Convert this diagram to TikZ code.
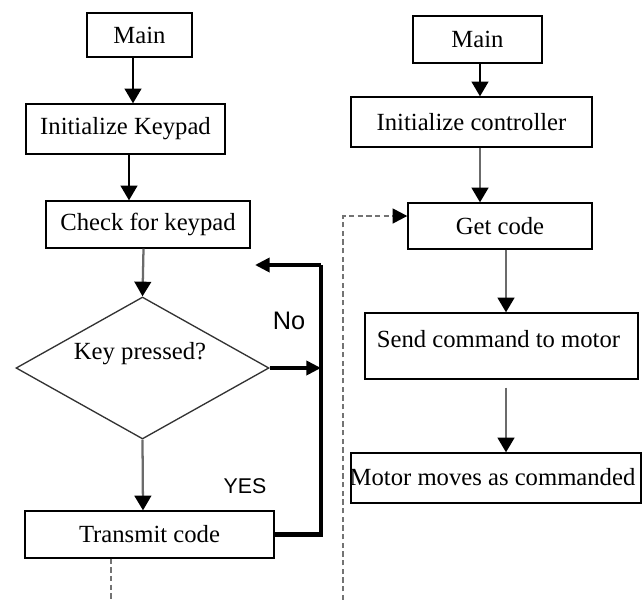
\documentclass[tikz,border=0pt]{standalone}
\usepackage{fontspec}
\setmainfont{Liberation Serif}
\newfontfamily\labelfont{Liberation Sans}
\usetikzlibrary{arrows.meta,shapes.geometric,calc}

\tikzset{
  stepbox/.style={draw=black, line width=1pt, rectangle, inner sep=0pt,
    font=\fontsize{18.5}{21}\selectfont},
  boxtext/.style={font=\fontsize{18.5}{21}\selectfont, inner sep=0pt},
  decision/.style={draw=black!80, line width=1pt, diamond, inner sep=0pt, aspect=1.78},
  tip/.style={-{Triangle[width=12.5pt,length=11pt,fill=black,color=black]}},
  arr/.style={draw=black, line width=1.5pt, tip},
  grayarr/.style={draw=black!58, line width=1.7pt, tip},
  loopline/.style={draw=black, line width=3.4pt, line join=miter},
  looparr/.style={loopline, -{Triangle[width=10.5pt,length=11pt]}},
  linkline/.style={draw=black!55, line width=1.8pt, dash pattern=on 4pt off 2.5pt},
  linkarr/.style={linkline, -{Triangle[width=11pt,length=11pt,fill=black,color=black]}},
  answer/.style={inner sep=0pt}
}

\begin{document}
\begin{tikzpicture}[x=0.75pt,y=-0.75pt]
\useasboundingbox (0,0) rectangle (643,600);

% keypad side
\node[stepbox, minimum width=78.75pt, minimum height=33pt] (mainL) at (139.5,35) {Main};
\node[stepbox, minimum width=149.25pt, minimum height=37.5pt] (initK) at (125.5,129) {Initialize Keypad};
\node[stepbox, minimum width=153pt, minimum height=35.25pt] (check) at (148,224.5) {Check for keypad};
\node[decision, minimum width=189.75pt, minimum height=106.5pt] (dec) at (142.5,368) {};
\node[boxtext] (decText) at (140,354) {Key pressed?};
\node[stepbox, minimum width=186.75pt, minimum height=35.25pt] (transmit) at (149.5,534.5) {Transmit code};

% controller side
\node[stepbox, minimum width=96.75pt, minimum height=35.25pt] (mainR) at (477.5,39.5) {Main};
\node[stepbox, minimum width=180.75pt, minimum height=37.5pt] (initC) at (471.5,122) {Initialize controller};
\node[stepbox, minimum width=138pt, minimum height=34.5pt] (getc) at (500,226) {Get code};
\node[stepbox, minimum width=204.75pt, minimum height=49.5pt] (send) at (501.5,346) {};
\node[boxtext] (sendText) at (498.5,339) {Send command to motor};
\node[stepbox, minimum width=217.5pt, minimum height=37.5pt] (motor) at (496,478) {};
\node[boxtext] (motorText) at (492.5,477) {Motor moves as commanded};

% branch labels
\node[answer, font=\labelfont\fontsize{19}{21}\selectfont] (no) at (289,321) {No};
\node[answer, font=\labelfont\fontsize{16}{18}\selectfont] (yes) at (245,486) {YES};

% loop corner points and free ends of the link
\coordinate (loopTop) at (321,265);
\coordinate (loopTip) at (255,265);
\coordinate (txEnd) at (111,600);
\coordinate (rxStart) at (343,600);

% keypad flow
\draw[arr] ($(mainL.south)+(-6.5,0)$) -- ($(initK.north)+(7.5,0)$);
\draw[arr] ($(initK.south)+(3.5,0)$) -- ($(check.north)+(-19,0)$);
\draw[grayarr] ($(check.south)+(-4.5,0)$) -- (dec.north);
\draw[grayarr] (dec.south) -- ($(transmit.north)+(-6.5,0)$);
\draw[looparr] (dec.east) -- (dec.east -| loopTop);
\draw[loopline] (transmit.east) -| (loopTop);
\draw[looparr] (loopTop) -- (loopTip);

% controller flow
\draw[arr] ($(mainR.south)+(2.5,0)$) -- ($(initC.north)+(8.5,0)$);
\draw[grayarr] ($(initC.south)+(8.5,0)$) -- ($(getc.north)+(-20,0)$);
\draw[grayarr] ($(getc.south)+(6,0)$) -- ($(send.north)+(4.5,0)$);
\draw[grayarr] ($(send.south)+(4.5,8)$) -- ($(motor.north)+(10,0)$);

% wireless link between the two sides
\draw[linkline] ($(transmit.south)+(-38.5,0)$) -- (txEnd);
\draw[linkarr] (rxStart) |- ($(getc.west)+(0,-10)$);
\end{tikzpicture}
\end{document}
